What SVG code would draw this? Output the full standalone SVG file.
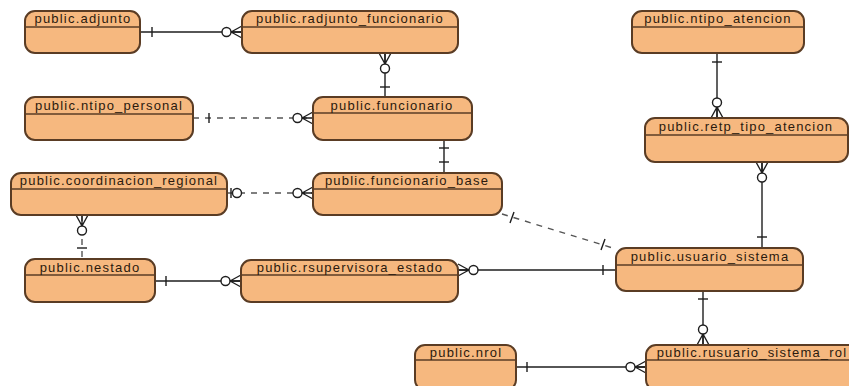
<svg xmlns="http://www.w3.org/2000/svg" xmlns:xlink="http://www.w3.org/1999/xlink" width="849" height="386" viewBox="0 0 849 386">
  <style>
    .tbl rect { fill: #f6b87f; stroke: #5a3c24; stroke-width: 2; }
    .tbl line { stroke: #5a3c24; stroke-width: 1.5; }
    .tbl text { font-family: "Liberation Sans", Arial, sans-serif; font-size: 13px; letter-spacing: 1.2px; fill: #2b1a0e; text-anchor: middle; }
    .rel { fill: none; stroke: #1e1e1e; stroke-width: 1.4; }
    .dash { stroke-dasharray: 6 6; stroke: #555; }
    .tick { fill: none; stroke: #1e1e1e; stroke-width: 1.4; }
    .ring { fill: #ffffff; stroke: #1e1e1e; stroke-width: 1.4; }
  </style>
  <defs>
    <!-- zero-or-many end: entity edge at x=0, relation line coming from the left -->
    <g id="zeroMany">
      <path class="tick" d="M-11,0 L0,-6 M-11,0 L0,0 M-11,0 L0,6"/>
      <circle class="ring" cx="-15.5" cy="0" r="4.5"/>
    </g>
    <!-- single bar marks, centred on the line -->
    <path id="barV" class="tick" d="M0,-5 V5"/>
    <path id="barH" class="tick" d="M-5,0 H5"/>
  </defs>

  <!-- relations -->
  <g id="connectors">
    <path class="rel" d="M140,32 H242"/>
    <use xlink:href="#barV" x="152" y="32"/>
    <use xlink:href="#zeroMany" transform="translate(242,32)"/>

    <path class="rel" d="M385,53 V97"/>
    <use xlink:href="#zeroMany" transform="translate(385,53) rotate(-90)"/>
    <use xlink:href="#barH" x="385" y="87"/>

    <path class="rel dash" d="M193,118 H313"/>
    <use xlink:href="#barV" x="209" y="118"/>
    <use xlink:href="#zeroMany" transform="translate(313,118)"/>

    <path class="rel" d="M444,140 V173"/>
    <use xlink:href="#barH" x="444" y="148"/>
    <use xlink:href="#barH" x="444" y="162"/>

    <path class="rel dash" d="M227,193 H313"/>
    <use xlink:href="#barV" x="231" y="193"/>
    <circle class="ring" cx="237" cy="193" r="4.5"/>
    <use xlink:href="#zeroMany" transform="translate(313,193)"/>

    <path class="rel dash" d="M82,215 V259"/>
    <use xlink:href="#zeroMany" transform="translate(82,215) rotate(-90)"/>
    <use xlink:href="#barH" x="82" y="248"/>

    <path class="rel" d="M155,281 H241"/>
    <use xlink:href="#barV" x="166" y="281"/>
    <use xlink:href="#zeroMany" transform="translate(241,281)"/>

    <path class="rel" d="M458,270 H616"/>
    <use xlink:href="#zeroMany" transform="translate(458,270) rotate(180)"/>
    <use xlink:href="#barV" x="603" y="270"/>

    <path class="rel dash" d="M502,214 L616,249"/>
    <path class="tick" d="M510,223 L514,212 M601,250 L605,239"/>

    <path class="rel" d="M717,53 V118"/>
    <use xlink:href="#barH" x="717" y="62"/>
    <use xlink:href="#zeroMany" transform="translate(717,118) rotate(90)"/>

    <path class="rel" d="M762,162 V248"/>
    <use xlink:href="#zeroMany" transform="translate(762,162) rotate(-90)"/>
    <use xlink:href="#barH" x="762" y="237"/>

    <path class="rel" d="M703,291 V345"/>
    <use xlink:href="#barH" x="703" y="299"/>
    <use xlink:href="#zeroMany" transform="translate(703,345) rotate(90)"/>

    <path class="rel" d="M516,367 H646"/>
    <use xlink:href="#barV" x="527" y="367"/>
    <use xlink:href="#zeroMany" transform="translate(646,367)"/>
  </g>

  <!-- tables -->
  <g id="adjunto" class="tbl">
    <rect x="25" y="11" width="115" height="42" rx="10"/>
    <line x1="25" y1="27" x2="140" y2="27"/>
    <text x="83" y="23">public.adjunto</text>
  </g>
  <g id="radjunto_funcionario" class="tbl">
    <rect x="242" y="11" width="216" height="42" rx="10"/>
    <line x1="242" y1="27" x2="458" y2="27"/>
    <text x="350" y="23">public.radjunto_funcionario</text>
  </g>
  <g id="ntipo_atencion" class="tbl">
    <rect x="632" y="11" width="172" height="42" rx="10"/>
    <line x1="632" y1="27" x2="804" y2="27"/>
    <text x="718" y="23">public.ntipo_atencion</text>
  </g>
  <g id="ntipo_personal" class="tbl">
    <rect x="25" y="97" width="168" height="43" rx="10"/>
    <line x1="25" y1="114" x2="193" y2="114"/>
    <text x="109" y="110">public.ntipo_personal</text>
  </g>
  <g id="funcionario" class="tbl">
    <rect x="313" y="97" width="159" height="43" rx="10"/>
    <line x1="313" y1="113" x2="472" y2="113"/>
    <text x="392" y="110">public.funcionario</text>
  </g>
  <g id="retp_tipo_atencion" class="tbl">
    <rect x="645" y="118" width="203" height="44" rx="10"/>
    <line x1="645" y1="135" x2="848" y2="135"/>
    <text x="746" y="131">public.retp_tipo_atencion</text>
  </g>
  <g id="coordinacion_regional" class="tbl">
    <rect x="11" y="173" width="216" height="42" rx="10"/>
    <line x1="11" y1="189" x2="227" y2="189"/>
    <text x="119" y="185">public.coordinacion_regional</text>
  </g>
  <g id="funcionario_base" class="tbl">
    <rect x="313" y="173" width="189" height="42" rx="10"/>
    <line x1="313" y1="189" x2="502" y2="189"/>
    <text x="407" y="185">public.funcionario_base</text>
  </g>
  <g id="usuario_sistema" class="tbl">
    <rect x="616" y="248" width="187" height="43" rx="10"/>
    <line x1="616" y1="265" x2="803" y2="265"/>
    <text x="710" y="261">public.usuario_sistema</text>
  </g>
  <g id="nestado" class="tbl">
    <rect x="25" y="259" width="130" height="43" rx="10"/>
    <line x1="25" y1="275" x2="155" y2="275"/>
    <text x="90" y="272">public.nestado</text>
  </g>
  <g id="rsupervisora_estado" class="tbl">
    <rect x="241" y="260" width="217" height="42" rx="10"/>
    <line x1="241" y1="275" x2="458" y2="275"/>
    <text x="350" y="272">public.rsupervisora_estado</text>
  </g>
  <g id="nrol" class="tbl">
    <rect x="415" y="345" width="101" height="45" rx="10"/>
    <line x1="415" y1="360" x2="516" y2="360"/>
    <text x="466" y="357">public.nrol</text>
  </g>
  <g id="rusuario_sistema_rol" class="tbl">
    <rect x="646" y="345" width="212" height="45" rx="10"/>
    <line x1="646" y1="360" x2="858" y2="360"/>
    <text x="752" y="357">public.rusuario_sistema_rol</text>
  </g>
</svg>
